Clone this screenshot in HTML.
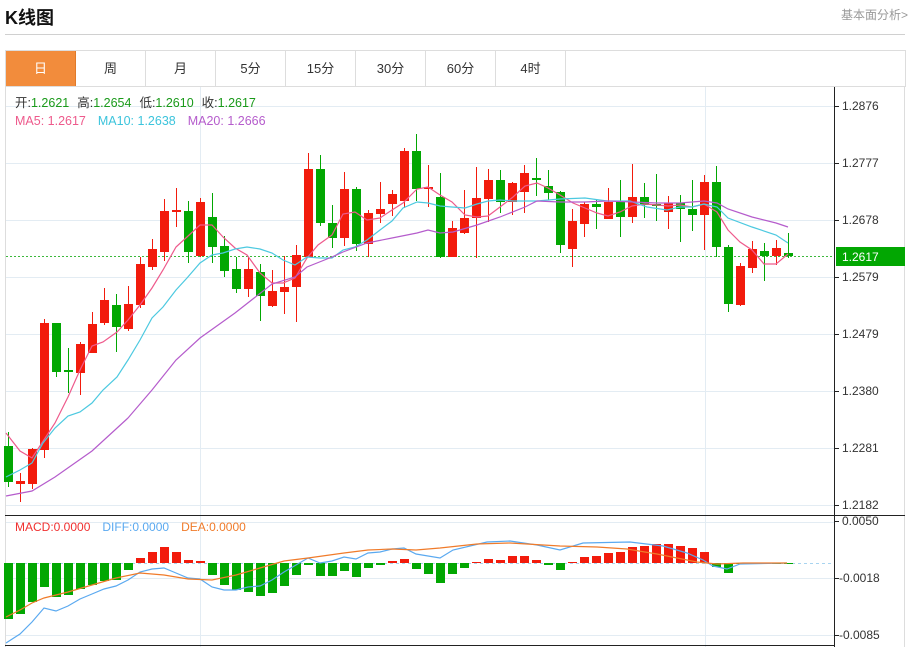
<!DOCTYPE html>
<html><head><meta charset="utf-8"><style>
body{margin:0;background:#fff;font-family:"Liberation Sans","Noto Sans CJK SC",sans-serif;}
#wrap{position:relative;width:914px;height:647px;overflow:hidden}
.t{position:absolute;left:5px;top:4px;font-size:18px;font-weight:bold;color:#111}
.lk{position:absolute;right:6px;top:6px;font-size:12px;color:#999}
.hr{position:absolute;left:5px;top:34px;width:900px;height:1px;background:#d0d0d0}
.tabs{position:absolute;left:5px;top:50px;width:899px;height:36px;border:1px solid #ddd;border-bottom:none}
.tab{position:absolute;top:0;width:70px;height:35px;line-height:35px;text-align:center;font-size:13px;color:#333;border-right:1px solid #ddd;box-sizing:border-box}
</style></head><body><div id="wrap">
<div class="t">K线图</div><div class="lk">基本面分析&gt;</div><div class="hr"></div>
<div class="tabs">
<div class="tab" style="left:0;background:#f28c3c;color:#fff;border-right:1px solid #e07a2a">日</div>
<div class="tab" style="left:70px">周</div><div class="tab" style="left:140px">月</div>
<div class="tab" style="left:210px">5分</div><div class="tab" style="left:280px">15分</div>
<div class="tab" style="left:350px">30分</div><div class="tab" style="left:420px">60分</div>
<div class="tab" style="left:490px">4时</div>
</div>
<svg id="s" width="914" height="647" style="position:absolute;left:0;top:0" font-family="Liberation Sans, Noto Sans CJK SC, sans-serif"></svg>
</div>
<script>
var R='#f21b0c',G='#02a702';
var o='';
// frame
o+='<rect x="5.5" y="86.5" width="899" height="570" fill="none" stroke="#ddd"/>';
[106,163,220,277,334,391,448,505,522,578,635].forEach(function(y){o+='<line x1="6" x2="834" y1="'+(y+.5)+'" y2="'+(y+.5)+'" stroke="#e3ecf3"/>';});
[200,705].forEach(function(x){o+='<line x1="'+(x+.5)+'" x2="'+(x+.5)+'" y1="87" y2="647" stroke="#e3ecf3"/>';});
o+='<line x1="834.5" x2="834.5" y1="87" y2="647" stroke="#222"/>';
o+='<line x1="5" x2="905" y1="515.5" y2="515.5" stroke="#222"/>';
o+='<line x1="5" x2="834" y1="645.5" y2="645.5" stroke="#222"/>';
var pl=[[106,'1.2876'],[163,'1.2777'],[220,'1.2678'],[277,'1.2579'],[334,'1.2479'],[391,'1.2380'],[448,'1.2281'],[505,'1.2182'],[521,'0.0050'],[578,'-0.0018'],[635,'-0.0085']];
pl.forEach(function(p){o+='<line x1="834" x2="839" y1="'+(p[0]+.5)+'" y2="'+(p[0]+.5)+'" stroke="#222"/><text x="'+(p[1][0]=='-'?839:842)+'" y="'+(p[0]+4)+'" font-size="12" fill="#333">'+p[1]+'</text>';});
// candles: [bodyTop,bodyBot,wickTop,wickBot,color]
var C=[[446,482,432,487,0],[481,484,473,502,1],[449,484,448,489,1],[323,450,319,458,1],[323,372,323,377,0],[370,372,348,393,0],[344,373,342,395,1],[324,353,312,353,1],[300,323,288,325,1],[305,327,294,352,0],[304,329,286,331,1],[264,305,257,308,1],[249,267,239,270,1],[211,252,199,261,1],[210,212,188,227,1],[211,252,201,263,0],[202,256,198,257,1],[217,247,193,263,0],[246,271,236,277,0],[269,289,257,293,0],[269,289,257,297,1],[272,296,264,321,0],[291,306,270,307,1],[287,292,256,314,1],[255,287,245,322,1],[169,257,153,257,1],[169,223,155,226,0],[223,238,205,248,0],[189,238,172,246,1],[189,244,187,251,0],[213,244,210,257,1],[209,214,182,223,1],[194,204,190,216,1],[151,201,148,208,1],[151,189,134,201,0],[187,189,165,207,1],[197,257,173,258,0],[228,257,221,257,1],[218,233,190,234,1],[198,218,167,258,1],[180,199,169,222,1],[180,202,170,213,0],[183,202,182,215,1],[173,192,165,213,1],[178,180,158,196,0],[186,193,170,200,0],[192,245,191,253,0],[221,249,209,267,1],[204,224,202,237,1],[204,207,199,229,0],[202,219,188,219,1],[202,217,180,237,0],[197,217,164,223,1],[197,205,183,218,0],[204,206,174,221,0],[203,212,196,229,1],[203,209,195,242,0],[209,215,180,231,0],[182,215,175,250,1],[182,247,166,257,0],[247,304,245,312,0],[266,305,263,306,1],[249,268,241,273,1],[251,256,243,281,0],[248,256,240,265,1],[253,256,233,258,0]];
function cx(i){return 8+i*12;}
o+='<line x1="6" x2="834" y1="256.5" y2="256.5" stroke="#3cb83c" stroke-dasharray="2,2"/>';
C.forEach(function(c,i){var x=cx(i),col=c[4]?R:G;o+='<line x1="'+(x+.5)+'" x2="'+(x+.5)+'" y1="'+c[2]+'" y2="'+c[3]+'" stroke="'+col+'"/><rect x="'+(x-4)+'" y="'+c[0]+'" width="9" height="'+Math.max(2,c[1]-c[0])+'" fill="'+col+'"/>';});
function pline(pts,col){o+='<polyline fill="none" stroke="'+col+'" stroke-width="1.2" points="'+pts.map(function(p){return p.join(',')}).join(' ')+'"/>';}
pline([[6,433],[20,451],[32,458],[55,423],[68,397],[80,370],[92,346],[103,342],[117,332],[128,320],[140,305],[152,288],[163,270],[176,247],[187,237],[200,225],[212,225],[223,237],[235,248],[247,255],[260,273],[272,283],[283,283],[295,278],[307,258],[318,245],[332,235],[343,214],[355,212],[367,220],[380,218],[392,210],[403,203],[417,189],[428,187],[440,195],[452,202],[465,215],[477,217],[488,216],[500,207],[513,197],[525,186],[537,183],[548,188],[560,195],[573,203],[585,208],[597,213],[608,216],[620,212],[632,206],[645,204],[657,205],[668,206],[680,205],[692,207],[704,204],[717,212],[728,230],[740,242],[752,250],[764,264],[776,264],[788,254]],'#ee5a8c');
pline([[6,477],[20,470],[32,463],[43,443],[55,428],[68,416],[80,412],[92,403],[103,390],[117,377],[128,360],[140,340],[152,318],[163,307],[176,290],[187,278],[200,263],[212,255],[223,253],[235,249],[247,247],[260,249],[272,253],[283,260],[295,265],[307,257],[320,258],[332,258],[343,250],[355,247],[367,240],[380,230],[392,221],[403,208],[417,202],[428,203],[440,206],[452,207],[465,208],[477,204],[488,201],[500,200],[513,201],[537,201],[560,199],[585,198],[607,201],[630,201],[647,207],[667,210],[680,207],[692,207],[704,204],[717,207],[728,218],[752,227],[776,235],[788,243]],'#4cc9e0');
pline([[6,496],[32,491],[55,477],[92,451],[128,418],[152,390],[176,360],[200,338],[235,313],[272,284],[295,277],[307,267],[332,257],[343,252],[367,243],[392,238],[417,233],[428,230],[440,233],[453,232],[477,225],[500,217],[525,207],[537,201],[560,202],[585,202],[607,201],[633,202],[657,203],[680,203],[704,201],[717,203],[728,209],[752,217],[776,223],[788,227]],'#b55ccc');
// price tag
o+='<rect x="836" y="247" width="69" height="19" fill="#02a702"/><text x="842" y="261" font-size="12" fill="#fff">1.2617</text>';
// MACD
var Z=563;
var M=[619,614,602,587,597,595,589,585,581,580,570,558,552,547,552,560,561,575,585,590,592,596,593,586,575,565,576,576,571,577,568,565,561,559,569,574,583,574,568,562,559,560,556,556,560,565,570,562,557,556,553,552,547,546,544,544,546,548,552,567,573,564,563,563,563,563];
var red=[11,12,13,14,15,16,32,33,39,40,41,42,43,44,47,48,49,50,51,52,53,54,55,56,57,58];
o+='<line x1="6" x2="834" y1="563.5" y2="563.5" stroke="#a8d4f0" stroke-dasharray="3,3"/>';
M.forEach(function(v,i){var x=cx(i);var up=red.indexOf(i)>=0;var y1=Math.min(v,Z),h=Math.abs(v-Z);if(h<1)h=1;o+='<rect x="'+(x-4)+'" y="'+y1+'" width="9" height="'+h+'" fill="'+(up?R:G)+'"/>';});
pline([[6,643],[20,634],[32,622],[44,608],[56,611],[68,606],[80,599],[92,594],[104,589],[116,586],[128,580],[140,572],[152,569],[164,568],[176,573],[188,578],[200,579],[212,587],[224,590],[236,590],[248,587],[260,586],[272,580],[284,572],[296,565],[308,558],[320,563],[332,561],[344,557],[356,559],[368,553],[380,552],[392,549],[404,548],[416,554],[440,558],[453,550],[487,542],[510,541],[537,545],[560,550],[583,543],[630,542],[663,546],[687,553],[703,560],[713,566],[727,569],[740,564],[787,563]],'#5aa9f0');
pline([[6,617],[20,610],[32,603],[44,598],[68,592],[92,585],[116,578],[140,573],[164,575],[188,579],[212,580],[236,575],[260,568],[284,561],[308,558],[344,553],[368,550],[392,549],[416,550],[440,548],[477,544],[510,543],[560,546],[597,547],[627,549],[657,554],[677,558],[697,562],[717,564],[743,563],[787,563]],'#f07b2a');
// legends
o+='<text y="107" font-size="12.5"><tspan x="15" fill="#333">开:</tspan><tspan fill="#1a9a1a">1.2621</tspan><tspan dx="8" fill="#333">高:</tspan><tspan fill="#1a9a1a">1.2654</tspan><tspan dx="8" fill="#333">低:</tspan><tspan fill="#1a9a1a">1.2610</tspan><tspan dx="8" fill="#333">收:</tspan><tspan fill="#1a9a1a">1.2617</tspan></text>';
o+='<text y="125" font-size="12.5"><tspan x="15" fill="#ee5a8c">MA5: 1.2617</tspan><tspan dx="12" fill="#3cc4dc">MA10: 1.2638</tspan><tspan dx="12" fill="#b55ccc">MA20: 1.2666</tspan></text>';
o+='<text y="531" font-size="12"><tspan x="15" fill="#f03030">MACD:0.0000</tspan><tspan dx="12" fill="#5aa9f0">DIFF:0.0000</tspan><tspan dx="12" fill="#f07b2a">DEA:0.0000</tspan></text>';
document.getElementById('s').innerHTML=o;
</script></body></html>
